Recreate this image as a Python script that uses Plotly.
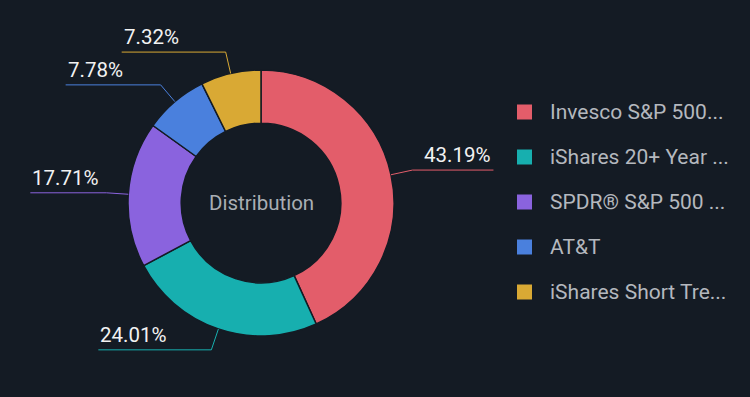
import math
import plotly.graph_objects as go

# ---- data ----
categories = ["Invesco S&P 500...", "iShares 20+ Year ...", "SPDR® S&P 500 ...", "AT&T", "iShares Short Tre..."]
values = [43.19, 24.01, 17.71, 7.78, 7.32]
colors = ["#E35D6A", "#17AFAF", "#8A63DE", "#4A80DD", "#D9A934"]

# ---- layout parameters (pixels) ----
W, H = 750, 397
BG = "#141B24"
cx, cy, R = 261, 203, 133
hole = 0.6
elbow_r = 155
line_len = [81, 113, 76, 95, 104]

def px(x):
    return x / W

def py(y):
    return 1 - y / H

fig = go.Figure()
fig.add_trace(go.Pie(
    labels=categories,
    values=values,
    sort=False,
    direction="clockwise",
    rotation=0,
    hole=hole,
    marker=dict(colors=colors, line=dict(color=BG, width=1.5)),
    textinfo="none",
    hoverinfo="label+percent",
    showlegend=False,
    domain=dict(x=[px(cx - R), px(cx + R)], y=[py(cy + R), py(cy - R)]),
))

shapes = []
annotations = []
total = sum(values)
cum = 0.0
for i, v in enumerate(values):
    mid = (cum + v / 2) / total
    cum += v
    ang = 2 * math.pi * mid
    sx, sy = math.sin(ang), -math.cos(ang)
    x0, y0 = cx + R * sx, cy + R * sy
    x1, y1 = cx + elbow_r * sx, cy + elbow_r * sy
    right = sx >= 0
    x2 = x1 + line_len[i] if right else x1 - line_len[i]
    path = f"M {px(x0)},{py(y0)} L {px(x1)},{py(y1)} L {px(x2)},{py(y1)}"
    shapes.append(dict(type="path", xref="paper", yref="paper", path=path,
                       line=dict(color=colors[i], width=1)))
    annotations.append(dict(
        x=px(x2), y=py(y1 - 1), xref="paper", yref="paper",
        text=f"{v:.2f}%", showarrow=False,
        xanchor="right" if right else "left", yanchor="bottom",
        font=dict(family="Roboto", size=20.5, color="#F2F2F2"),
    ))

# center label
annotations.append(dict(x=px(cx), y=py(cy), xref="paper", yref="paper",
                        text="Distribution", showarrow=False,
                        xanchor="center", yanchor="middle",
                        font=dict(family="Roboto", size=20.5, color="#A9AEB4")))

# manual legend
leg_y0, leg_dy = 112, 45
for i, name in enumerate(categories):
    yy = leg_y0 + i * leg_dy
    shapes.append(dict(type="rect", xref="paper", yref="paper",
                       x0=px(517), x1=px(532), y0=py(yy + 7.5), y1=py(yy - 7.5),
                       fillcolor=colors[i], line=dict(width=0)))
    annotations.append(dict(x=px(548), y=py(yy), xref="paper", yref="paper",
                            text=name, showarrow=False,
                            xanchor="left", yanchor="middle",
                            font=dict(family="Roboto", size=21, color="#B4B8BE")))

fig.update_layout(
    width=W, height=H,
    paper_bgcolor=BG, plot_bgcolor=BG,
    margin=dict(l=0, r=0, t=0, b=0),
    shapes=shapes, annotations=annotations,
    showlegend=False,
)

fig.write_html("out.html", config={"displayModeBar": False},
               post_script="document.body.style.margin='0';document.body.style.background='" + BG + "';")
